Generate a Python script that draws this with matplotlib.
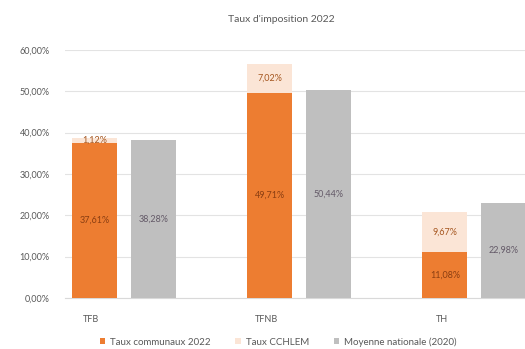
import matplotlib
matplotlib.use("Agg")
import matplotlib.pyplot as plt
import numpy as np

categories = ["TFB", "TFNB", "TH"]
taux_communaux = [37.61, 49.71, 11.08]
taux_cchlem = [1.12, 7.02, 9.67]
moyenne_nationale = [38.28, 50.44, 22.98]
yticks = [0, 10, 20, 30, 40, 50, 60]

plt.rcParams['font.family'] = ['Lato', 'DejaVu Sans']

c_orange = "#ED7D31"
c_light = "#FBE5D6"
c_gray = "#BFBFBF"
c_text = "#595959"

fig = plt.figure(figsize=(5.25, 3.49), dpi=100)
ax = fig.add_axes([65/525, 51/349, 1 - 65/525, 248/349])

x = np.arange(len(categories))
w = 0.257
off = 0.337

b1 = ax.bar(x, taux_communaux, w, color=c_orange, label="Taux communaux 2022", zorder=3)
b2 = ax.bar(x, taux_cchlem, w, bottom=taux_communaux, color=c_light, label="Taux CCHLEM", zorder=3)
b3 = ax.bar(x + off, moyenne_nationale, w, color=c_gray, label="Moyenne nationale (2020)", zorder=3)

def fmt(v):
    return f"{v:.2f}%".replace(".", ",")

for xi, v in zip(x, taux_communaux):
    ax.text(xi, v / 2, fmt(v), ha="center", va="center", fontsize=6.5, color="#8A3E12", zorder=4)
for xi, b, v in zip(x, taux_communaux, taux_cchlem):
    ax.text(xi, b + v / 2, fmt(v), ha="center", va="center", fontsize=6.5, color="#A5561F", zorder=4)
for xi, v in zip(x, moyenne_nationale):
    ax.text(xi + off, v / 2, fmt(v), ha="center", va="center", fontsize=6.5, color="#645A68", zorder=4)

ax.set_xlim(-0.169, 2.457)
ax.set_ylim(0, 60)
ax.set_yticks(yticks)
ax.set_yticklabels([f"{t:.2f}%".replace(".", ",") for t in yticks], fontsize=6.5, color=c_text)
ax.set_xticks(x - 0.02)
ax.set_xticklabels(categories, fontsize=6.5, color=c_text)
ax.tick_params(axis="y", length=0, pad=11)
ax.tick_params(axis="x", length=0, pad=12)
ax.yaxis.grid(True, color="#E3E3E3", linewidth=0.8, zorder=0)
for s in ["top", "right", "left"]:
    ax.spines[s].set_visible(False)
ax.spines["bottom"].set_color("#D9D9D9")

fig.text(0.535, 0.945, "Taux d'imposition 2022", ha="center", va="center", fontsize=7.5, color=c_text)

fig.legend(handles=[b1, b2, b3], loc="center", bbox_to_anchor=(0.53, 0.02), ncol=3,
           frameon=False, fontsize=7, labelcolor=c_text, handlelength=0.6, handleheight=0.6,
           columnspacing=2.5, handletextpad=0.5)

fig.savefig("out.png", dpi=100)
